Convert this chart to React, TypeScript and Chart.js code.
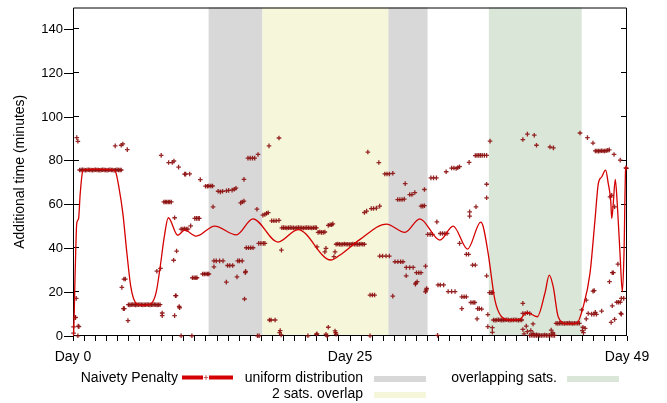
import { useEffect, useRef } from "react";
import { Chart, registerables } from "chart.js";

Chart.register(...registerables);

// ---------- data ----------
const seriesLabel = "Naivety Penalty";
const yAxisTitle = "Additional time (minutes)";
const xTickValues = [0, 25, 50];
const xTickLabels = ["Day 0", "Day 25", "Day 49"];
const yTickValues = [0, 20, 40, 60, 80, 100, 120, 140];

const bandLabels = ["uniform distribution", "2 sats. overlap", "overlapping sats."];
const bandStartDays = [12.24, 17.09, 28.47, 37.53];
const bandEndDays = [17.09, 28.47, 32.0, 45.91];
const bandKinds = [0, 1, 0, 2];

// smoothed penalty curve
const curveDays = [0, 0.05, 0.2, 0.34, 0.5, 0.65, 0.89, 1.1, 2.0, 3.53, 3.84, 4.14, 4.5, 4.86, 5.2, 5.47, 5.78, 6.49, 7.1, 7.51, 7.87, 8.23, 8.6, 9.45, 10.07, 11.13, 12.78, 14.74, 16.24, 18.5, 20.31, 23.26, 24.07, 25.88, 28.29, 29.95, 31.3, 33.11, 34.31, 35.61, 36.8, 37.02, 37.47, 38.08, 38.68, 39.43, 40.33, 40.94, 41.9, 42.59, 42.98, 43.34, 43.79, 44.55, 45.46, 46.05, 46.66, 47.11, 47.41, 47.71, 48.07, 48.31, 48.53, 48.62, 48.76, 48.94, 49.12, 49.37, 49.58, 49.73, 49.88, 50];
const curveMinutes = [0, 1, 30, 51.5, 53.5, 65, 75.5, 76, 76.2, 76, 75, 68, 56, 38, 23, 17, 14.6, 14, 15, 20, 31.6, 45, 54, 46, 48.3, 45.6, 50.2, 46.2, 53.5, 42.9, 48.6, 34.7, 36.9, 44, 51.1, 47.3, 53.5, 43.8, 50.2, 39.7, 52, 50, 37.7, 16.4, 8.8, 7.3, 7.6, 10.8, 8.8, 19.5, 27.8, 22.5, 8.8, 5.5, 5.8, 13.4, 28.6, 52.9, 69.6, 72.6, 75.7, 69.6, 62, 53.7, 60.5, 71.5, 60.5, 37.7, 20.2, 37.7, 76.5, 77.5];

// raw penalty samples [day, minutes]
const pointsEarly: [number, number][] = [
  [0.05, 1.3], [0.05, 4.2], [0.2, 8.4], [0.23, 8.5], [0.29, 17.2], [0.47, 4.5], [0.44, 0.1], [0.53, 4.3], [0.34, 90.6], [0.44, 88.9],
  [0.6, 75.8], [0.73, 75.8], [0.86, 75.9], [0.99, 75.8], [1.12, 75.7], [1.25, 75.8], [1.38, 75.9], [1.51, 75.8], [1.64, 75.8], [1.77, 75.7],
  [1.9, 75.8], [2.03, 75.9], [2.16, 75.8], [2.29, 75.8], [2.42, 75.7], [2.55, 75.8], [2.68, 75.9], [2.81, 75.8], [2.94, 75.8], [3.07, 75.7],
  [3.2, 75.8], [3.33, 75.9], [3.46, 75.8], [3.59, 75.8], [3.72, 75.7], [3.85, 75.8], [3.98, 75.9], [4.11, 75.8], [4.24, 75.8], [4.35, 75.8],
  [3.81, 86.8], [4.35, 87.1], [4.5, 87.7], [4.9, 85.1],
  [4.41, 22.2], [4.6, 26], [4.72, 26], [4.55, 12.5], [4.63, 12.5], [4.96, 7.0],
  [5.0, 14.3], [5.13, 14.2], [5.26, 14.3], [5.39, 14.4], [5.52, 14.3], [5.65, 14.2], [5.78, 14.3], [5.91, 14.3], [6.04, 14.4], [6.17, 14.3],
  [6.3, 14.2], [6.43, 14.3], [6.56, 14.3], [6.69, 14.4], [6.82, 14.3], [6.95, 14.2], [7.08, 14.3], [7.21, 14.3], [7.34, 14.4], [7.47, 14.3],
  [7.6, 14.2], [7.73, 14.3], [7.86, 14.3],
  [7.57, 29.6], [7.9, 30.9], [8.05, 9.3], [8.05, 10.5],
  [7.96, 82.5], [8.63, 79.2], [8.96, 79.2], [9.11, 79.9], [9.53, 77.1], [10.07, 73.9], [10.17, 73.9], [10.53, 74.0], [11.49, 71.4], [11.96, 68.4], [12.13, 68.4], [12.26, 68.5],
  [8.2, 61.2], [8.33, 61.2], [8.46, 61.2], [8.6, 61.2], [8.73, 61.2], [8.87, 61.2],
  [9.17, 54],
  [9.76, 48.8], [9.92, 48.8], [10.07, 49], [10.22, 48.8], [10.37, 48.8], [10.62, 50.3],
  [10.99, 53.7], [11.14, 53.7], [11.29, 53.7], [11.4, 53.7],
  [9.35, 38.8], [9.08, 34.6],
  [10.78, 26.6], [10.93, 26.6], [11.08, 26.6], [11.19, 26.6],
  [11.7, 28.3], [11.85, 28.3], [12.0, 28.3], [12.15, 28.3], [12.26, 28.3],
  [9.25, 18.4], [9.3, 18.4], [9.62, 12.9], [9.58, 13.5], [9.17, 9.3], [9.76, 0.1], [10.73, 0.1],
];

const pointsMiddle: [number, number][] = [
  [12.44, 68.5], [12.59, 68.5],
  [13.1, 66.1], [13.3, 65.8], [13.5, 66.1], [13.85, 66.3], [14.05, 66.5], [14.36, 66.6], [14.56, 67], [14.71, 67.5],
  [12.64, 59], [15.13, 60.8], [15.27, 61.2], [15.43, 61.6], [15.43, 71.5],
  [15.79, 81.2], [15.99, 81.2], [16.2, 81.2], [16.4, 81.2], [16.7, 82.9],
  [16.6, 57.9],
  [17.14, 55.2], [17.32, 55.5], [17.47, 56], [17.62, 56.3],
  [17.93, 52.6], [18.13, 52.6], [18.34, 52.6], [18.59, 52.8],
  [17.69, 86.8], [18.59, 90.4],
  [12.72, 34.3], [12.93, 34.3], [13.23, 34.3], [13.54, 34.3], [12.72, 31.6],
  [13.95, 32.2], [14.15, 32.2], [14.41, 32.2],
  [14.87, 34.3], [15.02, 34.3], [15.27, 34.3],
  [14.8, 27], [15.55, 28.9], [15.58, 29.5], [13.84, 24.6], [15.48, 16.9],
  [15.64, 40.3], [15.84, 40.3], [16.04, 40.3], [16.25, 40.3],
  [16.76, 42.3], [16.96, 42.3], [17.17, 42.3], [17.32, 42.3],
  [18.81, 39.2],
  [17.73, 7.3], [17.88, 7.3], [18.24, 7.3], [18.65, 1.5], [18.79, 0.5], [18.7, 2.5], [16.65, 0.1], [16.8, 0.1],
  [18.85, 49.4], [19.0, 49.5], [19.15, 49.4], [19.3, 49.3], [19.45, 49.4], [19.6, 49.5], [19.75, 49.4], [19.9, 49.4], [20.05, 49.3], [20.2, 49.4], [20.35, 49.5],
  [20.5, 49.4], [20.65, 49.4], [20.8, 49.3], [20.95, 49.4], [21.1, 49.5], [21.25, 49.4], [21.4, 49.4], [21.55, 49.3], [21.7, 49.4], [21.85, 49.5], [21.97, 49.4],
  [22.12, 47.3], [22.27, 47.5], [22.42, 47.3], [22.58, 47.3], [22.73, 47.5],
  [23.04, 50.5], [23.2, 50.8], [23.34, 50.8], [23.45, 51.2],
  [23.75, 41.9], [23.9, 42.0], [24.05, 41.9], [24.2, 41.8], [24.35, 41.9], [24.5, 42.0], [24.65, 41.9], [24.8, 41.9], [24.95, 41.8],
  [25.1, 41.9], [25.25, 42.0], [25.4, 41.9], [25.55, 41.9], [25.7, 41.8], [25.85, 41.9], [26.0, 42.0], [26.15, 41.9], [26.3, 41.9],
  [22.02, 40.7], [22.83, 40], [22.73, 38.4], [23.65, 38.4], [23.55, 36.2],
  [21.2, 0.1], [21.97, 0.8], [22.02, 1], [22.83, 0.8], [22.93, 0], [23.04, 4], [23.65, 2.3], [23.75, 0.8], [23.7, 1.5],
  [26.61, 84], [27.6, 79.2],
  [28.14, 74], [28.34, 74], [28.55, 74], [28.86, 74.3],
  [26.3, 56.4], [26.5, 57], [26.92, 58.2], [27.12, 58.2], [27.38, 58.4], [27.68, 59.3],
  [27.68, 36.5], [27.94, 36.5], [28.25, 36.5], [28.55, 36.5],
  [26.81, 18.7], [27.02, 18.7], [27.22, 18.7], [28.86, 18.2],
  [26.81, 0.1],
];

const pointsLate: [number, number][] = [
  [29.06, 33.9], [29.32, 33.9], [29.57, 33.9], [29.78, 33.9],
  [30.08, 31.3], [30.39, 31.3], [30.7, 31.3], [30.07, 27.5],
  [31.0, 28.9], [31.21, 28.9], [31.41, 28.9],
  [31.06, 24.8], [30.9, 23.7], [30.95, 24.2],
  [31.82, 31.9], [31.92, 21.7], [31.82, 20.2], [31.87, 21],
  [29.3, 62.3], [29.5, 62.3], [29.7, 62.3], [29.9, 62.5],
  [30.39, 64.6], [30.59, 64.6], [30.85, 65.5], [29.98, 69.6],
  [31.41, 59.3], [31.57, 59.3], [31.72, 59.5], [31.72, 66.9],
  [32.3, 72.2], [32.54, 72.2], [32.8, 72.2],
  [32.02, 46.4], [32.23, 46.4], [32.43, 46.4],
  [33.15, 46.8], [33.35, 46.8], [33.56, 46.8], [33.76, 46.8], [32.84, 52.1],
  [33.68, 75.0], [34.17, 76.7], [34.38, 76.7], [34.58, 76.5], [34.73, 76.9], [34.89, 77.3], [35.75, 79.3],
  [36.31, 82.4], [36.46, 82.5], [36.62, 82.5], [36.77, 82.5], [36.93, 82.5], [37.13, 82.5], [37.33, 82.5],
  [32.94, 23.3], [33.15, 23.3], [33.45, 23.3],
  [33.86, 20.3], [34.17, 20.3], [34.48, 20.3],
  [34.89, 42.3], [35.5, 37.3], [35.7, 37.3], [36.06, 32.4], [36.31, 32.4],
  [35.09, 17.9], [35.3, 17.9], [35.5, 17.9],
  [35.91, 15.3], [36.11, 15.3], [36.26, 15.3],
  [35.09, 12.5], [36.52, 12.5], [36.67, 12.5], [36.88, 12.3], [36.47, 7.8],
  [35.8, 56.7], [35.8, 54.7], [36.37, 59],
  [32.9, 0.3],
  [37.64, 89], [37.33, 69.3], [37.33, 63.1], [37.33, 27.5],
  [37.59, 19.8], [37.74, 19.8], [37.85, 19.8],
  [37.44, 9.8], [37.44, 4.3], [37.85, 3.8], [37.85, 1.7],
  [37.95, 7.3], [38.1, 7.2], [38.25, 7.3], [38.4, 7.4], [38.55, 7.3], [38.7, 7.2], [38.85, 7.3], [39.0, 7.3], [39.15, 7.4], [39.3, 7.3],
  [39.45, 7.2], [39.6, 7.3], [39.75, 7.3], [39.9, 7.4], [40.05, 7.3], [40.2, 7.2], [40.35, 7.3], [40.5, 7.3],
  [40.6, 89.7], [41.01, 92.2], [41.63, 91.7], [41.83, 87.1], [43.05, 86.3], [43.36, 85.9],
  [40.6, 14.9], [40.6, 10.3], [40.81, 10.3], [41.01, 10.6], [41.22, 10.3],
  [40.6, 3], [40.71, 1], [40.91, 4.5], [41.01, 2], [41.32, 2.5], [41.52, 1.2], [41.83, 0.5], [41.52, 5.5], [43.16, 2.7], [43.31, 1.5],
  [41.22, 0.3], [41.37, 0.4], [41.52, 0.3], [41.67, 0.2], [41.82, 0.3], [41.97, 0.4], [42.12, 0.3], [42.27, 0.2],
  [42.42, 0.3], [42.57, 0.4], [42.72, 0.3], [42.87, 0.2], [43.02, 0.3], [43.17, 0.4], [43.32, 0.3], [43.46, 0.3],
  [43.6, 5.8], [43.75, 5.7], [43.9, 5.8], [44.05, 5.9], [44.2, 5.8], [44.35, 5.7], [44.5, 5.8], [44.65, 5.8],
  [44.8, 5.9], [44.95, 5.8], [45.1, 5.7], [45.25, 5.8], [45.4, 5.8], [45.55, 5.9], [45.7, 5.8],
  [45.91, 11.9], [46.02, 4], [46.07, 1.5], [45.97, 2.5], [46.22, 3.5], [46.32, 7.8], [46.32, 16.4],
  [46.93, 20.5], [47.04, 20.7], [47.14, 10.8], [47.24, 9.9], [47.71, 11.4], [46.5, 10.3], [46.81, 10], [47.02, 10],
  [45.76, 92.7], [46.43, 90.6], [46.93, 88.1],
  [47.14, 84.5], [47.28, 84.5], [47.42, 84.4], [47.56, 84.5], [47.7, 84.6], [47.84, 84.5], [47.98, 84.5], [48.12, 84.6], [48.26, 84.8], [48.4, 85],
  [48.83, 82.9], [49.39, 80.3], [49.9, 76.8], [49.95, 76.5],
  [48.47, 63.5], [48.62, 64.2], [48.88, 59],
  [49.18, 32.8], [48.77, 28.9], [48.67, 28.9], [48.42, 24.8], [48.57, 6.2], [48.88, 7.6], [48.67, 13.8],
  [49.08, 15.4], [49.23, 15.4], [49.39, 15.4], [49.49, 17.2], [49.7, 17.2], [49.44, 10.3], [49.49, 10],
];

// ---------- styles ----------
const FONT = '"Liberation Sans", Arial, Helvetica, sans-serif';
const lineColor = "rgb(212,0,0)";
const pointColor = "rgba(140,16,16,0.9)";
const bandColors = ["rgb(216,216,216)", "rgb(246,246,218)", "rgb(217,230,216)"];

const framePlugin = {
  id: "gnuplotFrame",
  beforeDatasetsDraw(chart: any) {
    const { ctx, chartArea } = chart;
    const xs = chart.scales.x;
    const ys = chart.scales.y;
    const { left, right, top, bottom } = chartArea;
    ctx.save();
    for (let i = 0; i < bandStartDays.length; i++) {
      const x1 = xs.getPixelForValue(bandStartDays[i]);
      const x2 = xs.getPixelForValue(bandEndDays[i]);
      ctx.fillStyle = bandColors[bandKinds[i]];
      ctx.fillRect(x1, top, x2 - x1, bottom - top);
    }
    ctx.strokeStyle = "#000";
    ctx.lineWidth = 1;
    ctx.beginPath();
    ctx.moveTo(left + 0.5, top + 0.5);
    ctx.lineTo(right - 0.5, top + 0.5);
    ctx.lineTo(right - 0.5, bottom - 0.5);
    ctx.lineTo(left + 0.5, bottom - 0.5);
    ctx.closePath();
    ctx.stroke();
    ctx.beginPath();
    for (const v of yTickValues) {
      const y = Math.round(ys.getPixelForValue(v)) - 0.5;
      ctx.moveTo(left, y);
      ctx.lineTo(left + 6, y);
      ctx.moveTo(right - 6, y);
      ctx.lineTo(right, y);
    }
    ctx.stroke();
    ctx.restore();
  },
};

const legendPlugin = {
  id: "gnuplotLegend",
  afterDraw(chart: any) {
    const ctx = chart.ctx;
    ctx.save();
    ctx.font = `14px ${FONT}`;
    ctx.fillStyle = "#000";
    ctx.textBaseline = "alphabetic";
    ctx.textAlign = "right";
    const row1 = 381.5;
    const row2 = 398;
    ctx.fillText(seriesLabel, 178, row1);
    ctx.fillStyle = lineColor;
    ctx.fillRect(182, 375.5, 21, 4);
    ctx.fillRect(209, 375.5, 24, 4);
    ctx.strokeStyle = "rgba(185,70,70,0.85)";
    ctx.lineWidth = 1.2;
    ctx.beginPath();
    ctx.moveTo(203.8, 377.5);
    ctx.lineTo(208.2, 377.5);
    ctx.moveTo(206, 375.3);
    ctx.lineTo(206, 379.7);
    ctx.stroke();

    ctx.fillStyle = "#000";
    ctx.fillText(bandLabels[0], 363, row1);
    ctx.fillText(bandLabels[1], 363, row2);
    ctx.fillText(bandLabels[2], 557, row1);
    ctx.fillStyle = bandColors[0];
    ctx.fillRect(374, 376, 52, 6);
    ctx.fillStyle = bandColors[1];
    ctx.fillRect(374, 392, 52, 6);
    ctx.fillStyle = bandColors[2];
    ctx.fillRect(567, 376, 52, 6);
    ctx.restore();
  },
};

export default function App() {
  const ref = useRef<HTMLCanvasElement>(null);
  useEffect(() => {
    document.body.style.margin = "0";
    const allPoints = [...pointsEarly, ...pointsMiddle, ...pointsLate].map(([x, y]) => ({ x, y }));
    const curve = curveDays.map((d, i) => ({ x: d, y: curveMinutes[i] }));
    const chart = new Chart(ref.current as HTMLCanvasElement, {
      type: "scatter",
      data: {
        datasets: [
          {
            type: "line",
            label: seriesLabel,
            data: curve,
            borderColor: lineColor,
            borderWidth: 1.3,
            pointRadius: 0,
            cubicInterpolationMode: "monotone",
            fill: false,
          } as any,
          {
            type: "scatter",
            label: seriesLabel + " samples",
            data: allPoints,
            pointStyle: "cross",
            pointRadius: 2.3,
            borderWidth: 1.3,
            borderColor: pointColor,
            backgroundColor: pointColor,
            clip: false,
          } as any,
        ],
      },
      options: {
        animation: false,
        responsive: true,
        maintainAspectRatio: false,
        layout: { padding: { top: 7, right: 40, bottom: 0, left: 0 } },
        plugins: { legend: { display: false }, tooltip: { enabled: false } },
        scales: {
          x: {
            type: "linear",
            min: 0,
            max: 50,
            afterFit: (s: any) => { s.height = 67; },
            border: { display: false },
            grid: { drawOnChartArea: false, drawTicks: true, tickLength: 5, color: "#000", lineWidth: 1 },
            ticks: {
              stepSize: 1,
              autoSkip: false,
              maxRotation: 0,
              padding: 9,
              color: "#000",
              font: { family: FONT, size: 14, lineHeight: 1 },
              callback: (v: any) => {
                const i = xTickValues.indexOf(Number(v));
                return i >= 0 ? xTickLabels[i] : "";
              },
            },
          },
          y: {
            type: "linear",
            min: 0,
            max: 150,
            afterFit: (s: any) => { s.width = 73; },
            afterBuildTicks: (s: any) => { s.ticks = yTickValues.map((v) => ({ value: v })); },
            border: { display: false },
            grid: { drawOnChartArea: false, drawTicks: true, tickLength: 9, color: "#000", lineWidth: 1 },
            ticks: {
              padding: 1,
              color: "#000",
              font: { family: FONT, size: 13, lineHeight: 1 },
            },
            title: {
              display: true,
              text: yAxisTitle,
              color: "#000",
              font: { family: FONT, size: 14 },
              padding: { top: 12, bottom: 0 },
            },
          },
        },
      },
      plugins: [framePlugin, legendPlugin],
    });
    return () => chart.destroy();
  }, []);
  return (
    <div style={{ width: 667, height: 403, position: "relative" }}>
      <canvas ref={ref} />
    </div>
  );
}
